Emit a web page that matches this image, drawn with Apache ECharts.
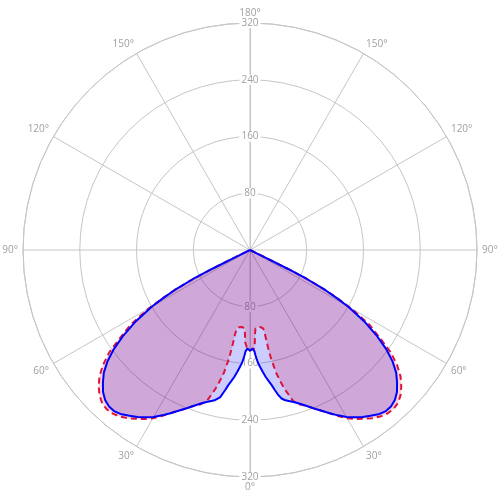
<!DOCTYPE html>
<html>
<head>
<meta charset="utf-8">
<script src="https://cdn.jsdelivr.net/npm/echarts@6/dist/echarts.min.js"></script>
<style>
html,body{margin:0;padding:0;background:#fff;}
#chart{width:499px;height:500px;}
</style>
</head>
<body>
<div id="chart"></div>
<script>
// Gamma angles (degrees from nadir) for one half-plane; mirrored for the opposite half-plane
var gamma = [0, 1.5, 2.5, 3, 3.5, 4, 5, 6, 7, 8, 9, 9.5, 10, 10.5, 11, 11.5, 12, 13, 14, 16, 18, 20, 22, 24, 26, 28, 30, 32, 34, 36, 38, 40, 42, 44, 46, 48, 50, 52, 54, 56, 58, 60, 61, 62, 63, 63.5, 64, 64.5, 65, 90];
// Intensity, solid blue curve
var blueValues = [142, 139, 143, 149, 154, 159, 166, 173, 180, 186, 192, 196, 200, 204, 208, 212, 214, 217, 219, 223, 228, 234, 241, 248, 256, 264, 272, 278, 284, 289, 294, 297, 297, 294, 288, 279, 269, 255, 237, 215, 190, 160, 140, 120, 90, 60, 25, 5, 0, 0];
// Intensity, dashed red curve
var redValues = [142, 140, 139, 130, 117, 111, 109.5, 109, 109, 110, 111, 112, 119, 140, 157, 166, 177, 190, 202, 222, 229, 234, 241, 248, 256, 265, 274, 281, 287, 293, 298, 301, 302, 300, 295, 287, 277, 263, 245, 220, 198, 165, 143, 121, 90, 60, 25, 5, 0, 0];
// Tick labels
var radiusTicks = [80, 160, 240, 320];
var angleTicks = [0, 30, 60, 90, 120, 150, 180];

function mirrored(values) {
  var out = [];
  for (var i = gamma.length - 1; i >= 1; i--) out.push([values[i], -gamma[i]]);
  for (var j = 0; j < gamma.length; j++) out.push([values[j], gamma[j]]);
  return out;
}

var labelFont = {fontFamily: 'Open Sans', fontSize: 10};
var gridColor = '#c6c6c6';
var labelColor = '#a0a0a0';

function radiusLabel(v) { return radiusTicks.indexOf(v) >= 0 ? String(v) : ''; }
function angleLabel(v) {
  var a = Math.abs(v);
  return angleTicks.indexOf(a) >= 0 ? a + '°' : '';
}

var radiusLabelStyle = Object.assign({
  color: labelColor, margin: 0, align: 'center', verticalAlign: 'middle',
  backgroundColor: '#fff', padding: [0, 2], formatter: radiusLabel
}, labelFont);

var chart = echarts.init(document.getElementById('chart'), null, {renderer: 'canvas'});
chart.setOption({
  animation: false,
  backgroundColor: '#fff',
  polar: [
    {center: [250, 250], radius: 227},
    {center: [250, 250], radius: 227}
  ],
  angleAxis: [
    {
      polarIndex: 0, type: 'value', min: -180, max: 180, interval: 30,
      startAngle: 90, clockwise: true,
      axisLine: {lineStyle: {color: gridColor, width: 1}},
      axisTick: {show: false},
      axisLabel: Object.assign({color: labelColor, margin: 5, align: 'center', verticalAlign: 'middle', formatter: angleLabel}, labelFont),
      splitLine: {show: true, lineStyle: {color: gridColor, width: 1}}
    },
    {
      polarIndex: 1, type: 'value', min: -180, max: 180, interval: 30,
      startAngle: 270, clockwise: true, show: false
    }
  ],
  radiusAxis: [
    {
      polarIndex: 0, type: 'value', min: 0, max: 320, interval: 80,
      axisLine: {show: true, lineStyle: {color: gridColor, width: 1}},
      axisTick: {show: false},
      axisLabel: radiusLabelStyle,
      splitLine: {show: true, lineStyle: {color: gridColor, width: 1}}
    },
    {
      polarIndex: 1, type: 'value', min: 0, max: 320, interval: 80,
      axisLine: {show: true, lineStyle: {color: gridColor, width: 1}},
      axisTick: {show: false},
      axisLabel: radiusLabelStyle,
      splitLine: {show: false}
    }
  ],
  series: [
    {
      type: 'line', coordinateSystem: 'polar', polarIndex: 0,
      data: mirrored(blueValues), showSymbol: false, symbol: 'none',
      lineStyle: {width: 0, opacity: 0},
      areaStyle: {color: 'rgba(0,0,255,0.2)', opacity: 1},
      z: 2
    },
    {
      type: 'line', coordinateSystem: 'polar', polarIndex: 0,
      data: mirrored(redValues), showSymbol: false, symbol: 'none',
      lineStyle: {color: '#dc143c', width: 2, type: [6, 4]},
      areaStyle: {color: 'rgba(220,20,60,0.2)', opacity: 1},
      z: 3
    },
    {
      type: 'line', coordinateSystem: 'polar', polarIndex: 0,
      data: mirrored(blueValues), showSymbol: false, symbol: 'none',
      lineStyle: {color: '#0000ff', width: 2},
      z: 4
    }
  ]
});
</script>
</body>
</html>
